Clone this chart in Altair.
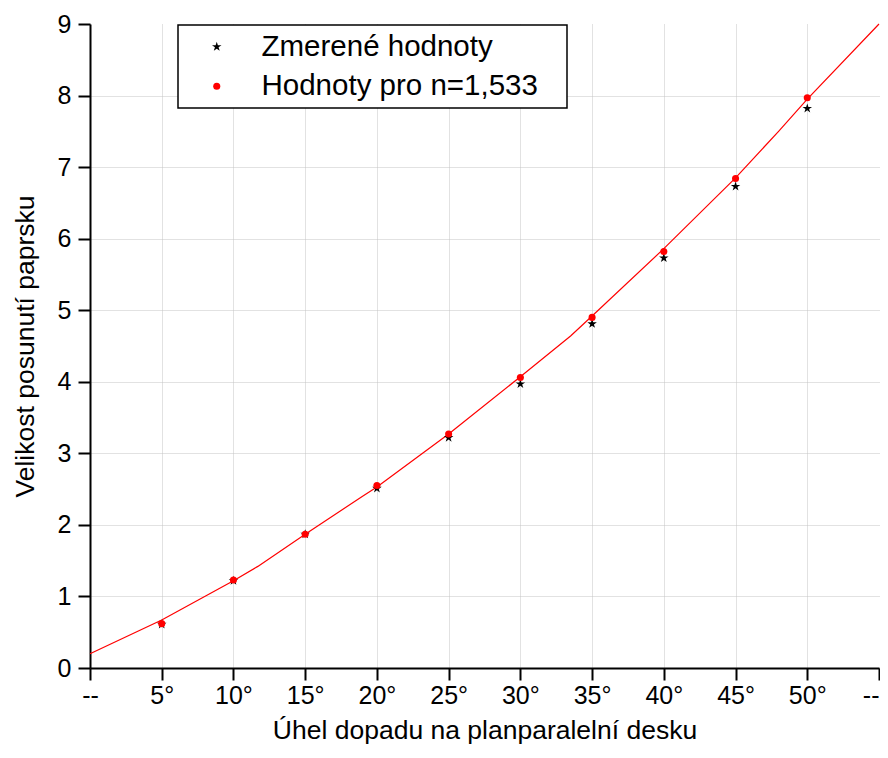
import altair as alt
import pandas as pd

# Data
angles = [5, 10, 15, 20, 25, 30, 35, 40, 45, 50]
measured = [0.61, 1.22, 1.87, 2.51, 3.22, 3.97, 4.81, 5.73, 6.73, 7.82]
computed = [0.62, 1.23, 1.87, 2.55, 3.27, 4.06, 4.90, 5.82, 6.84, 7.97]

curve_x = [0, 5, 10, 11.7, 15, 19, 20, 25, 30, 33.5, 35, 40, 45, 48, 50, 55]
curve_y = [0.20, 0.67, 1.22, 1.42, 1.87, 2.40, 2.53, 3.27, 4.07, 4.64, 4.92, 5.86, 6.85, 7.50, 7.95, 9.00]

series_names = ["Zmerené hodnoty", "Hodnoty pro n=1,533"]

x_ticks = [i * 2.5 for i in range(23)]
y_ticks = [i * 0.5 for i in range(19)]

pts = pd.DataFrame(
    {"x": angles + angles, "y": measured + computed,
     "s": [series_names[0]] * len(angles) + [series_names[1]] * len(angles)}
)
crv = pd.DataFrame({"x": curve_x, "y": curve_y})

FONT = "Liberation Sans"
STAR = ("M0,-1L0.225,-0.309L0.951,-0.309L0.363,0.118L0.588,0.809L0,0.382"
        "L-0.588,0.809L-0.363,0.118L-0.951,-0.309L-0.225,-0.309Z")

xscale = alt.Scale(domain=[0, 55], nice=False, zero=False)
yscale = alt.Scale(domain=[0, 9], nice=False, zero=False)

xaxis = alt.Axis(
    title="Úhel dopadu na planparalelní desku",
    values=x_ticks,
    labelExpr="datum.value === 0 || datum.value === 55 ? '--' : (datum.value % 5 === 0 ? datum.value + '°' : '')",
    labelAlign={"condition": {"test": "datum.value === 55", "value": "right"}, "value": "center"},
    tickSize={"condition": {"test": "datum.value % 5 === 0", "value": 12}, "value": 6},
    gridOpacity={"condition": {"test": "datum.value === 55", "value": 0}, "value": 1},
    labelOverlap=False, labelFlush=False, labelPadding=3,
    titlePadding=9,
)
yaxis = alt.Axis(
    title="Velikost posunutí paprsku",
    values=y_ticks,
    labelExpr="datum.value % 1 === 0 ? datum.value : ''",
    tickSize={"condition": {"test": "datum.value % 1 === 0", "value": 12}, "value": 6},
    gridOpacity={"condition": {"test": "datum.value === 9", "value": 0}, "value": 1},
    labelOverlap=False, labelFlush=False, labelPadding=7,
    titlePadding=18,
)

line = alt.Chart(crv).mark_line(color="#ff0000", strokeWidth=1.2).encode(
    x=alt.X("x:Q", scale=xscale, axis=xaxis),
    y=alt.Y("y:Q", scale=yscale, axis=yaxis),
)

points = alt.Chart(pts).mark_point(filled=True, opacity=1).encode(
    x=alt.X("x:Q", scale=xscale),
    y=alt.Y("y:Q", scale=yscale),
    color=alt.Color("s:N", scale=alt.Scale(domain=series_names, range=["#000000", "#ff0000"]),
                    legend=alt.Legend(
                        title=None, orient="none", legendX=88, legendY=1,
                        strokeColor="#000000", fillColor="#ffffff", padding=7,
                        labelFontSize=29.5, labelFont=FONT, labelColor="#000000",
                        rowPadding=8.5, symbolOffset=17, labelOffset=30,
                        labelExpr="datum.label + '\u2800'",
                        labelLimit=600,
                    )),
    shape=alt.Shape("s:N", scale=alt.Scale(domain=series_names, range=[STAR, "circle"]),
                    legend=None),
    size=alt.Size("s:N", scale=alt.Scale(domain=series_names, range=[100, 50]), legend=None),
)

chart = alt.layer(line, points).properties(
    width=789, height=644,
    autosize=alt.AutoSizeParams(type="none"),
    padding={"left": 82, "top": 16, "right": 1, "bottom": 81},
).configure_view(stroke=None).configure_axis(
    domainColor="#000000", domainWidth=2,
    tickColor="#000000", tickWidth=2,
    gridColor="#c4c4c4", gridDash=[1, 1], gridWidth=1,
    labelFont=FONT, labelFontSize=25, labelColor="#000000",
    titleFont=FONT, titleFontSize=26.5, titleColor="#000000", titleFontWeight="normal",
).configure_legend(strokeWidth=1.5)

chart.save("out.html", embed_options={"renderer": "svg", "actions": False})
